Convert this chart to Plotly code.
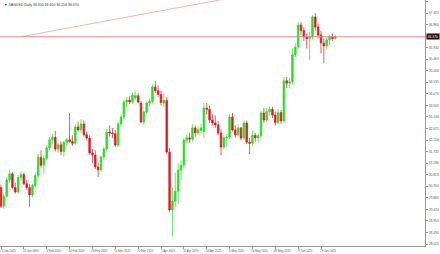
import plotly.graph_objects as go

dates = (
    ["13 Jan 2025", "14 Jan 2025", "15 Jan 2025", "16 Jan 2025", "17 Jan 2025", "20 Jan 2025", "21 Jan 2025",
     "22 Jan 2025", "23 Jan 2025", "24 Jan 2025", "27 Jan 2025", "28 Jan 2025", "29 Jan 2025", "30 Jan 2025",
     "31 Jan 2025"]
    + ["3 Feb 2025", "4 Feb 2025", "5 Feb 2025", "6 Feb 2025", "7 Feb 2025", "10 Feb 2025", "11 Feb 2025",
       "12 Feb 2025", "13 Feb 2025", "14 Feb 2025", "17 Feb 2025", "18 Feb 2025", "19 Feb 2025", "20 Feb 2025",
       "21 Feb 2025", "24 Feb 2025", "25 Feb 2025", "26 Feb 2025", "27 Feb 2025", "28 Feb 2025"]
    + ["3 Mar 2025", "4 Mar 2025", "5 Mar 2025", "6 Mar 2025", "7 Mar 2025", "10 Mar 2025", "11 Mar 2025",
       "12 Mar 2025", "13 Mar 2025", "14 Mar 2025", "17 Mar 2025", "18 Mar 2025", "19 Mar 2025", "20 Mar 2025",
       "21 Mar 2025", "24 Mar 2025", "25 Mar 2025", "26 Mar 2025", "27 Mar 2025", "28 Mar 2025", "31 Mar 2025"]
    + ["1 Apr 2025", "2 Apr 2025", "3 Apr 2025", "4 Apr 2025", "7 Apr 2025", "8 Apr 2025", "9 Apr 2025",
       "10 Apr 2025", "11 Apr 2025", "14 Apr 2025", "15 Apr 2025", "16 Apr 2025", "17 Apr 2025", "21 Apr 2025",
       "22 Apr 2025", "23 Apr 2025", "24 Apr 2025", "25 Apr 2025", "28 Apr 2025", "29 Apr 2025", "30 Apr 2025"]
    + ["1 May 2025", "2 May 2025", "5 May 2025", "6 May 2025", "7 May 2025", "8 May 2025", "9 May 2025",
       "12 May 2025", "13 May 2025", "14 May 2025", "15 May 2025", "16 May 2025", "19 May 2025", "20 May 2025",
       "21 May 2025", "22 May 2025", "23 May 2025", "26 May 2025", "27 May 2025", "28 May 2025", "29 May 2025",
       "30 May 2025"]
    + ["2 Jun 2025", "3 Jun 2025", "4 Jun 2025", "5 Jun 2025", "6 Jun 2025", "9 Jun 2025", "10 Jun 2025",
       "11 Jun 2025", "12 Jun 2025", "13 Jun 2025", "16 Jun 2025", "17 Jun 2025", "18 Jun 2025", "19 Jun 2025",
       "20 Jun 2025", "23 Jun 2025", "24 Jun 2025", "25 Jun 2025", "26 Jun 2025"]
)

opens = [30.30, 29.55, 29.95, 30.60, 30.85, 30.30, 30.12, 30.70, 30.82, 30.45,
         30.30, 30.00, 30.38, 30.78, 31.52, 31.20, 31.48, 31.90, 32.22, 32.32,
         31.85, 32.02, 31.75, 32.12, 32.22, 32.15, 32.08, 32.74, 32.62, 32.86,
         32.42, 32.29, 31.69, 31.61, 31.13, 31.01, 31.53, 31.85, 32.54, 32.50,
         32.47, 32.01, 32.86, 33.14, 33.74, 33.82, 33.74, 33.90, 34.00, 33.70,
         32.94, 33.34, 33.70, 33.76, 34.35, 34.20, 34.05, 33.70, 33.80, 31.73,
         29.40, 29.75, 30.15, 31.00, 31.20, 32.21, 32.30, 32.25, 32.70, 32.50,
         32.60, 32.55, 33.50, 33.45, 33.02, 32.90, 32.82, 32.50, 31.93, 32.30,
         32.33, 33.14, 32.62, 32.42, 32.70, 32.29, 32.90, 32.13, 32.08, 32.40,
         32.30, 32.38, 33.30, 33.02, 33.36, 33.45, 33.22, 32.92, 33.32, 32.98,
         34.60, 34.50, 34.56, 35.64, 35.96, 36.84, 36.62, 36.36, 36.30, 36.36,
         37.17, 36.76, 36.44, 36.12, 36.00, 36.24, 36.36, 36.30]
highs = [30.42, 30.05, 30.70, 31.02, 30.92, 30.50, 30.80, 30.95, 30.90, 30.60,
         30.45, 30.45, 30.90, 31.65, 31.80, 31.60, 32.00, 32.35, 32.45, 32.58,
         32.10, 32.15, 32.20, 32.30, 33.30, 32.40, 32.85, 32.95, 33.05, 33.00,
         32.55, 32.40, 31.85, 31.80, 31.30, 31.60, 31.95, 32.65, 32.80, 32.70,
         32.62, 32.95, 33.25, 33.82, 33.95, 33.98, 34.12, 34.20, 34.10, 33.78,
         33.40, 33.75, 33.88, 34.45, 34.58, 34.40, 34.20, 34.08, 33.95, 31.90,
         30.30, 30.90, 31.30, 31.40, 32.30, 32.45, 32.50, 32.85, 32.80, 32.75,
         32.85, 33.70, 33.70, 33.60, 33.25, 33.20, 32.98, 32.65, 32.40, 32.45,
         33.25, 33.30, 32.80, 32.85, 32.75, 33.00, 33.00, 32.30, 32.60, 32.50,
         32.45, 33.40, 33.50, 33.50, 33.55, 33.55, 33.35, 33.45, 33.42, 34.75,
         34.75, 34.70, 35.90, 36.10, 36.95, 36.95, 36.75, 36.50, 36.55, 37.25,
         37.32, 36.90, 36.60, 36.30, 36.35, 36.45, 36.50, 36.45]
lows = [29.48, 29.45, 29.88, 30.50, 30.25, 30.05, 30.05, 30.58, 30.40, 30.22,
        29.52, 29.90, 30.30, 30.70, 31.10, 30.85, 31.40, 31.80, 32.05, 31.75,
        31.70, 31.60, 31.55, 32.00, 32.10, 31.98, 32.00, 32.55, 32.50, 32.35,
        32.20, 31.62, 31.29, 31.05, 30.72, 30.95, 31.40, 31.78, 32.35, 32.30,
        31.95, 31.95, 32.75, 33.05, 33.55, 33.65, 33.68, 33.82, 33.70, 32.88,
        32.85, 33.28, 33.55, 33.70, 34.10, 33.95, 33.60, 33.55, 31.65, 29.30,
        28.33, 29.50, 29.65, 30.60, 31.10, 32.05, 32.10, 32.15, 32.35, 32.40,
        32.50, 32.30, 33.25, 32.90, 32.80, 32.70, 32.40, 31.60, 31.85, 31.95,
        32.25, 32.55, 32.30, 32.35, 32.20, 32.20, 32.05, 31.65, 31.95, 32.15,
        32.10, 32.30, 32.90, 32.95, 33.20, 33.10, 32.80, 32.85, 32.85, 32.90,
        34.30, 34.30, 34.45, 35.55, 35.90, 36.45, 36.20, 35.90, 35.43, 36.25,
        36.60, 36.30, 35.70, 35.31, 35.85, 36.05, 36.20, 36.25]
closes = [29.55, 29.95, 30.60, 30.85, 30.30, 30.12, 30.70, 30.82, 30.45, 30.30,
          30.00, 30.38, 30.78, 31.52, 31.20, 31.48, 31.90, 32.22, 32.32, 31.85,
          32.02, 31.75, 32.12, 32.22, 32.15, 32.08, 32.74, 32.62, 32.86, 32.42,
          32.29, 31.69, 31.61, 31.13, 31.01, 31.53, 31.85, 32.54, 32.50, 32.47,
          32.01, 32.86, 33.14, 33.74, 33.82, 33.74, 34.03, 34.00, 33.74, 32.94,
          33.34, 33.70, 33.76, 34.35, 34.20, 34.05, 33.72, 33.80, 31.73, 29.40,
          29.75, 30.15, 31.00, 31.20, 32.21, 32.30, 32.25, 32.70, 32.50, 32.62,
          32.70, 33.50, 33.45, 33.02, 32.90, 32.82, 32.50, 31.93, 32.30, 32.33,
          33.14, 32.62, 32.42, 32.70, 32.29, 32.90, 32.13, 32.08, 32.40, 32.30,
          32.38, 33.30, 33.02, 33.36, 33.45, 33.22, 32.92, 33.32, 32.98, 34.60,
          34.50, 34.56, 35.64, 35.96, 36.84, 36.62, 36.36, 36.30, 36.36, 37.17,
          36.76, 36.44, 36.12, 36.00, 36.24, 36.36, 36.30, 36.37]

price_ticks = [37.790, 37.325, 36.860, 36.395, 35.930, 35.465, 35.000, 34.535, 34.070, 33.605, 33.140,
               32.675, 32.210, 31.745, 31.280, 30.815, 30.350, 29.885, 29.420, 28.955, 28.490, 28.025]
level_price = 36.37
trend_x = [7.0, 76.9]
trend_y = [36.37, 37.86]
symbol = "XAGUSD,Daily"

x = list(range(len(dates)))
tick_idx = list(range(0, len(dates), 8))

fig = go.Figure()
fig.add_trace(go.Candlestick(
    x=x, open=opens, high=highs, low=lows, close=closes,
    increasing=dict(line=dict(color="#22e022", width=0.7), fillcolor="#22e022"),
    decreasing=dict(line=dict(color="#e8141c", width=0.7), fillcolor="#e8141c"),
    showlegend=False, hoverinfo="skip",
))
fig.add_trace(go.Scatter(
    x=trend_x, y=trend_y, mode="lines",
    line=dict(color="#f0a0a0", width=0.8), showlegend=False, hoverinfo="skip",
))
fig.add_shape(type="line", xref="paper", x0=0, x1=1, yref="y", y0=level_price, y1=level_price,
              line=dict(color="#e08888", width=1))

fig.add_annotation(xref="paper", x=1.0, xanchor="left", xshift=1, yref="y", y=level_price,
                   text=f"{level_price:.3f}", showarrow=False, bgcolor="#2a0808",
                   font=dict(size=3.4, color="white", family="Liberation Sans"), borderpad=0.6)
fig.add_annotation(xref="paper", x=0.004, xanchor="left", yref="paper", y=0.994, yanchor="top",
                   text=f"▼ {symbol} {opens[-1]:.3f} {highs[-1]:.3f} {lows[-1]:.3f} {closes[-1]:.3f}",
                   showarrow=False, font=dict(size=3.5, color="#333", family="Liberation Sans"))

fig.update_layout(
    width=440, height=254, margin=dict(l=0, r=15, t=0, b=8),
    paper_bgcolor="white", plot_bgcolor="white", boxgap=0.2,
    xaxis=dict(range=[-0.35, 148.4], tickmode="array", tickvals=tick_idx,
               ticktext=[dates[i] for i in tick_idx], showgrid=False, zeroline=False,
               showline=True, linecolor="#999", linewidth=1, mirror=True,
               ticks="outside", ticklen=2, tickcolor="#999",
               tickfont=dict(size=2.9, color="#555", family="Liberation Sans"),
               ticklabelshift=7, ticklabelstandoff=0,
               rangeslider=dict(visible=False)),
    yaxis=dict(range=[27.946, 37.85], side="right", tickmode="array", tickvals=price_ticks,
               ticktext=[f"{v:.3f}" for v in price_ticks], showgrid=False, zeroline=False,
               showline=True, linecolor="#999", linewidth=1, mirror=True,
               ticks="outside", ticklen=2, tickcolor="#999",
               tickfont=dict(size=3.3, color="#555", family="Liberation Sans"),
               ticklabelstandoff=0),
)

fig.write_html("out.html")
